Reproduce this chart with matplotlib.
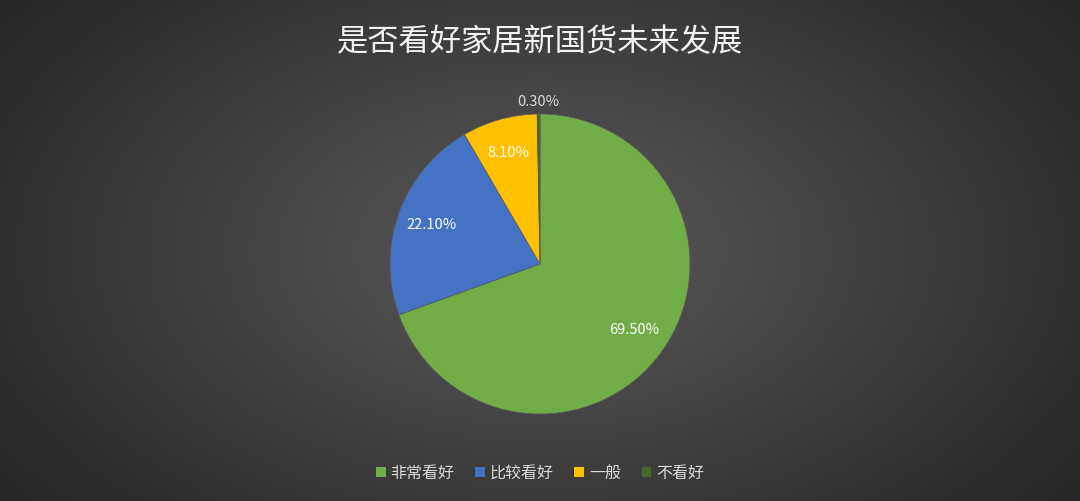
import numpy as np
import matplotlib.pyplot as plt

plt.rcParams['font.family'] = ['Noto Sans CJK SC', 'DejaVu Sans']

title = '是否看好家居新国货未来发展'
labels = ['非常看好', '比较看好', '一般', '不看好']
values = [69.5, 22.1, 8.1, 0.3]
colors = ['#70AD47', '#4472C4', '#FFC000', '#43682B']

fig = plt.figure(figsize=(10.8, 5.01), dpi=100)

# radial gradient background
bg = fig.add_axes([0, 0, 1, 1], zorder=-10)
yy, xx = np.mgrid[0:501, 0:1080]
d = np.sqrt(((xx - 540) / 700.0) ** 2 + ((yy - 250) / 420.0) ** 2)
d = np.clip(d, 0, 1)
c0 = np.array([0x5a, 0x5a, 0x5a]) / 255.0
c1 = np.array([0x24, 0x24, 0x24]) / 255.0
img = c0[None, None, :] * (1 - d[..., None]) + c1[None, None, :] * d[..., None]
bg.imshow(img, aspect='auto', extent=[0, 1, 0, 1])
bg.axis('off')

ax = fig.add_axes([390 / 1080, (501 - 414) / 501, 300 / 1080, 300 / 501])
wedges, texts, autotexts = ax.pie(values, colors=colors, startangle=90, counterclock=False,
                                  autopct=lambda p: '%.2f%%' % p, pctdistance=0.77,
                                  radius=1, wedgeprops=dict(linewidth=0.5, edgecolor='#5a5a5a'),
                                  textprops=dict(color='white', fontsize=10.5))
# small slice label goes outside
w = wedges[-1]
ang = np.deg2rad((w.theta1 + w.theta2) / 2)
autotexts[-1].set_position((1.08 * np.cos(ang), 1.08 * np.sin(ang)))
autotexts[-1].set_color('#d9d9d9')
ax.set_xlim(-1, 1)
ax.set_ylim(-1, 1)
ax.set_aspect('equal')

fig.text(0.5, 1 - 42 / 501, title, ha='center', va='center', color='#f2f2f2', fontsize=22.5,
         fontweight='light')

leg = fig.legend(wedges, labels, loc='center', bbox_to_anchor=(0.5, 1 - 473 / 501), ncol=4,
                 frameon=False, fontsize=11.5, handlelength=0.6, handleheight=0.6,
                 handletextpad=0.3, columnspacing=1.3, labelcolor='#d9d9d9')
for h in leg.legend_handles:
    h.set_linewidth(0)

fig.savefig('out.png', dpi=100)
